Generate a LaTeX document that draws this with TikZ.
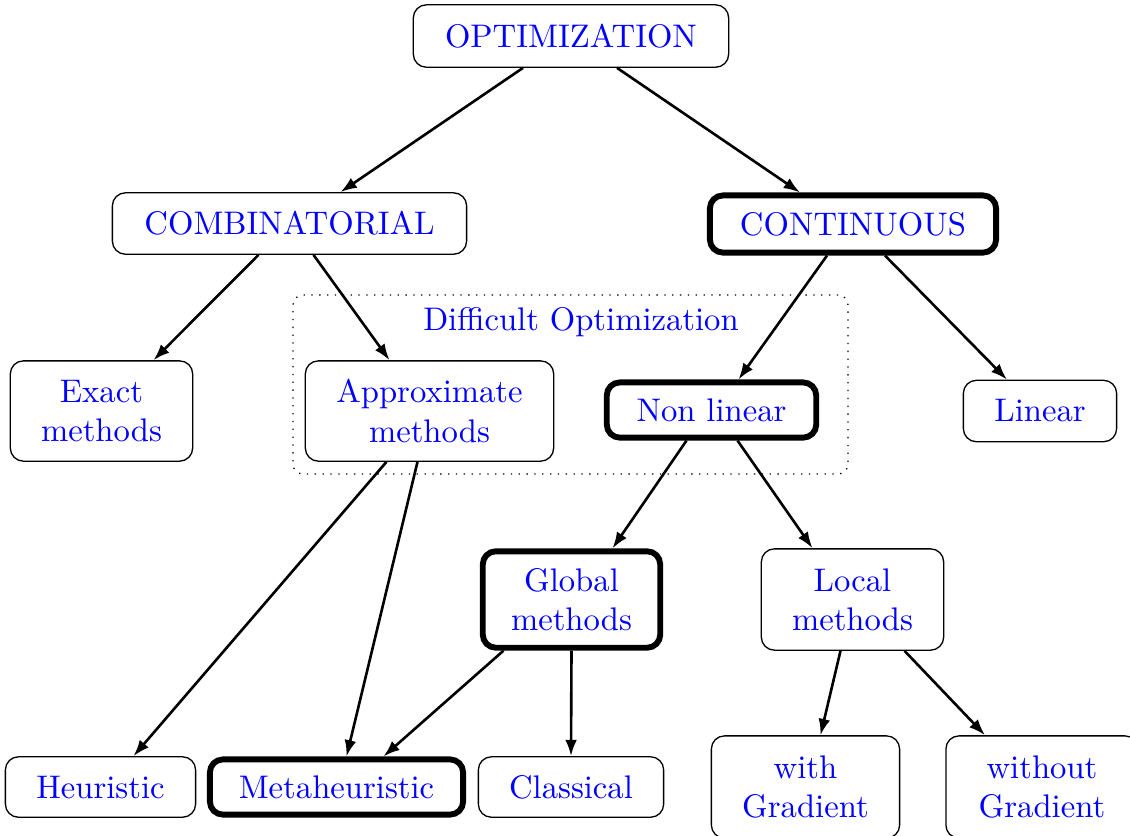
\documentclass[tikz,border=0pt]{standalone}
\usetikzlibrary{calc,arrows.meta}
\begin{document}
\begin{tikzpicture}[x=0.306pt,y=-0.306pt,
  box/.style={draw,rounded corners=4pt,text=blue,align=center,inner sep=0pt,line width=0.4pt},
  bold/.style={box,line width=1.8pt},
  arr/.style={-{Latex[length=5pt,width=3.6pt]},line width=0.8pt}]
\useasboundingbox (0,0) rectangle (1130,835);
% dotted region
\node[draw,dotted,rounded corners=3pt,minimum width=169.8pt,minimum height=54.8pt,inner sep=0pt] (diff) at (570.5,384.5) {};
\node[text=blue,inner sep=0pt] (difflabel) at (581,322) {Difficult Optimization};
% nodes
\node[box,minimum width=96.5pt,minimum height=19.1pt] (opt) at (571,36) {OPTIMIZATION};
\node[box,minimum width=108.4pt,minimum height=18.8pt] (comb) at (289.5,223.5) {COMBINATORIAL};
\node[bold,minimum width=87.6pt,minimum height=17.5pt] (cont) at (853,224) {CONTINUOUS};
\node[box,minimum width=55.8pt,minimum height=30.7pt] (exact) at (101.5,411) {Exact\\methods};
\node[box,minimum width=76.0pt,minimum height=30.7pt] (approx) at (429.5,411) {Approximate\\methods};
\node[bold,minimum width=64.1pt,minimum height=16.9pt] (nl) at (711.5,410) {Non linear};
\node[box,minimum width=46.9pt,minimum height=18.8pt] (lin) at (1040,411) {Linear};
\node[bold,minimum width=54.3pt,minimum height=29.5pt] (glob) at (571.5,599.5) {Global\\methods};
\node[box,minimum width=55.8pt,minimum height=31.0pt] (loc) at (852.5,599.5) {Local\\methods};
\node[box,minimum width=58.2pt,minimum height=18.5pt] (heur) at (100.5,787) {Heuristic};
\node[bold,minimum width=77.5pt,minimum height=16.9pt] (meta) at (336.5,787) {Metaheuristic};
\node[box,minimum width=56.7pt,minimum height=18.5pt] (class) at (571,787) {Classical};
\node[box,minimum width=57.6pt,minimum height=31.3pt] (wg) at (805.5,787) {with\\Gradient};
\node[box,minimum width=58.8pt,minimum height=31.3pt] (wog) at (1042,787) {without\\Gradient};
% arrows
\draw[arr] ($(opt.south)+(-48,0)$) -- ($(comb.north)+(51,0)$);
\draw[arr] ($(opt.south)+(46,0)$) -- ($(cont.north)+(-53,0)$);
\draw[arr] ($(comb.south)+(-31,0)$) -- ($(exact.north)+(52,0)$);
\draw[arr] ($(comb.south)+(24,0)$) -- ($(approx.north)+(-40,0)$);
\draw[arr] ($(cont.south)+(-26,0)$) -- ($(nl.north)+(27,0)$);
\draw[arr] ($(cont.south)+(32,0)$) -- ($(lin.north)+(-33,0)$);
\draw[arr] ($(nl.south)+(-25,0)$) -- ($(glob.north)+(41,0)$);
\draw[arr] ($(nl.south)+(26,0)$) -- ($(loc.north)+(-40,0)$);
\draw[arr] ($(approx.south)+(-43,0)$) -- ($(heur.north)+(33,0)$);
\draw[arr] ($(approx.south)+(-12,0)$) -- ($(meta.north)+(10,0)$);
\draw[arr] ($(glob.south)+(-68,0)$) -- ($(meta.north)+(47,0)$);
\draw[arr] (glob.south) -- (class.north);
\draw[arr] ($(loc.south)+(-12,0)$) -- ($(wg.north)+(15,0)$);
\draw[arr] ($(loc.south)+(52,0)$) -- ($(wog.north)+(-57,0)$);
\end{tikzpicture}
\end{document}
